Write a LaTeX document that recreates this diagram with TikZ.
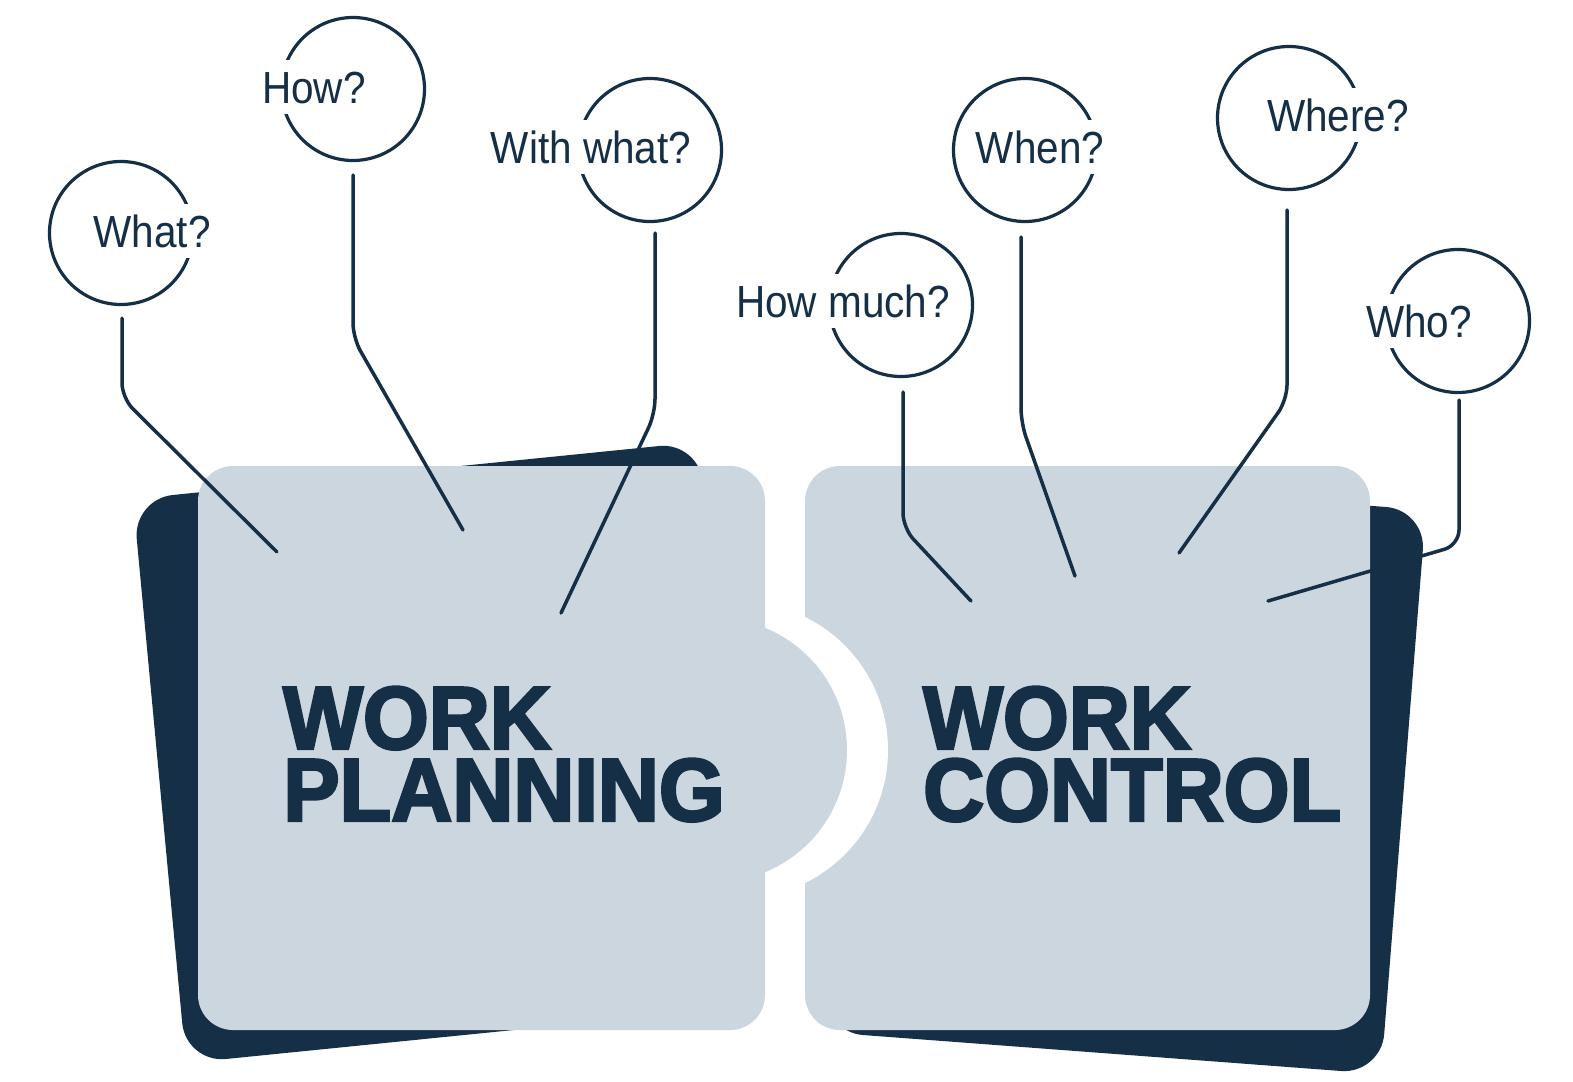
\documentclass[tikz,border=0pt]{standalone}
\usepackage{fontspec}
\newfontfamily\qfont[FakeStretch=0.9]{Liberation Sans}
\newfontfamily\tfont[FakeStretch=0.95,FakeBold=3]{Liberation Sans Bold}
\definecolor{navy}{HTML}{152F47}
\definecolor{panel}{HTML}{CCD6DF}
\begin{document}
\begin{tikzpicture}[x=1pt,y=-1pt,
  qcirc/.style={circle,draw=navy,line width=3.2pt,minimum size=143pt,inner sep=0pt},
  qtext/.style={fill=white,text=navy,font=\qfont\fontsize{45}{54}\selectfont,inner xsep=1pt,inner ysep=0pt,text height=43pt,text depth=11pt,anchor=base},
  ttext/.style={text=navy,font=\tfont\fontsize{89}{72}\selectfont,inner sep=0pt,align=left,text depth=0pt,anchor=south west},
  conn/.style={draw=navy,line width=3.5pt,line cap=round,rounded corners=15pt},
  darkpanel/.style={fill=navy,rounded corners=40pt},
  lightpanel/.style={fill=panel,rounded corners=35pt}]
\useasboundingbox (0,0) rectangle (1573,1081);
\fill[white] (0,0) rectangle (1573,1081);

% right panel
\path[darkpanel] (868,468) -- (1426,510) -- (1381,1074) -- (823,1032) -- cycle;
\path[lightpanel] (805,466) rectangle (1370,1030);
\fill[white] (740,750) circle[radius=148];

% left panel
\path[darkpanel] (133,499) -- (699,442) -- (752,1006) -- (186,1063) -- cycle;
\path[lightpanel] (198,466) rectangle (765,1030);
\fill[panel] (715,750) circle[radius=132];

% titles
\node[ttext] (wplan) at (283,821) {WORK\\PLANNING};
\node[ttext] (wctrl) at (923,821) {WORK\\CONTROL};

% circles
\node[qcirc] (cWhat) at (121,233) {};
\node[qcirc] (cHow) at (353,89) {};
\node[qcirc] (cWith) at (650,150) {};
\node[qcirc] (cMuch) at (901,305) {};
\node[qcirc] (cWhen) at (1025,150) {};
\node[qcirc] (cWhere) at (1289,118) {};
\node[qcirc] (cWho) at (1458,321) {};

% texts
\node[qtext] (tWhat) at (152,247) {What?};
\node[qtext] (tHow) at (314,103) {How?};
\node[qtext] (tWith) at (591,163) {With what?};
\node[qtext] (tMuch) at (843,317) {How much?};
\node[qtext] (tWhen) at (1040,163) {When?};
\node[qtext] (tWhere) at (1338,131) {Where?};
\node[qtext] (tWho) at (1419,337) {Who?};

% connector points
\coordinate (sWhat) at (122,318);  \coordinate (bWhat) at (122,398);  \coordinate (eWhat) at (277,552);
\coordinate (sHow) at (353,175);   \coordinate (bHow) at (353,338);   \coordinate (eHow) at (463,530);
\coordinate (sWith) at (655,233);  \coordinate (bWith) at (655,414);  \coordinate (eWith) at (561,613);
\coordinate (sMuch) at (903,392);  \coordinate (bMuch) at (903,528);  \coordinate (eMuch) at (971,601);
\coordinate (sWhen) at (1021,237); \coordinate (bWhen) at (1021,423); \coordinate (eWhen) at (1075,576);
\coordinate (sWhere) at (1287,210);\coordinate (bWhere) at (1287,400);\coordinate (eWhere) at (1179,553);
\coordinate (sWho) at (1459,400);  \coordinate (bWho) at (1459,545);  \coordinate (eWho) at (1268,601);

\draw[conn] (sWhat) -- (bWhat) -- (eWhat);
\draw[conn] (sHow) -- (bHow) -- (eHow);
\draw[conn] (sWith) -- (bWith) -- (eWith);
\draw[conn] (sMuch) -- (bMuch) -- (eMuch);
\draw[conn] (sWhen) -- (bWhen) -- (eWhen);
\draw[conn] (sWhere) -- (bWhere) -- (eWhere);
\draw[conn] (sWho) -- (bWho) -- (eWho);
\end{tikzpicture}
\end{document}
